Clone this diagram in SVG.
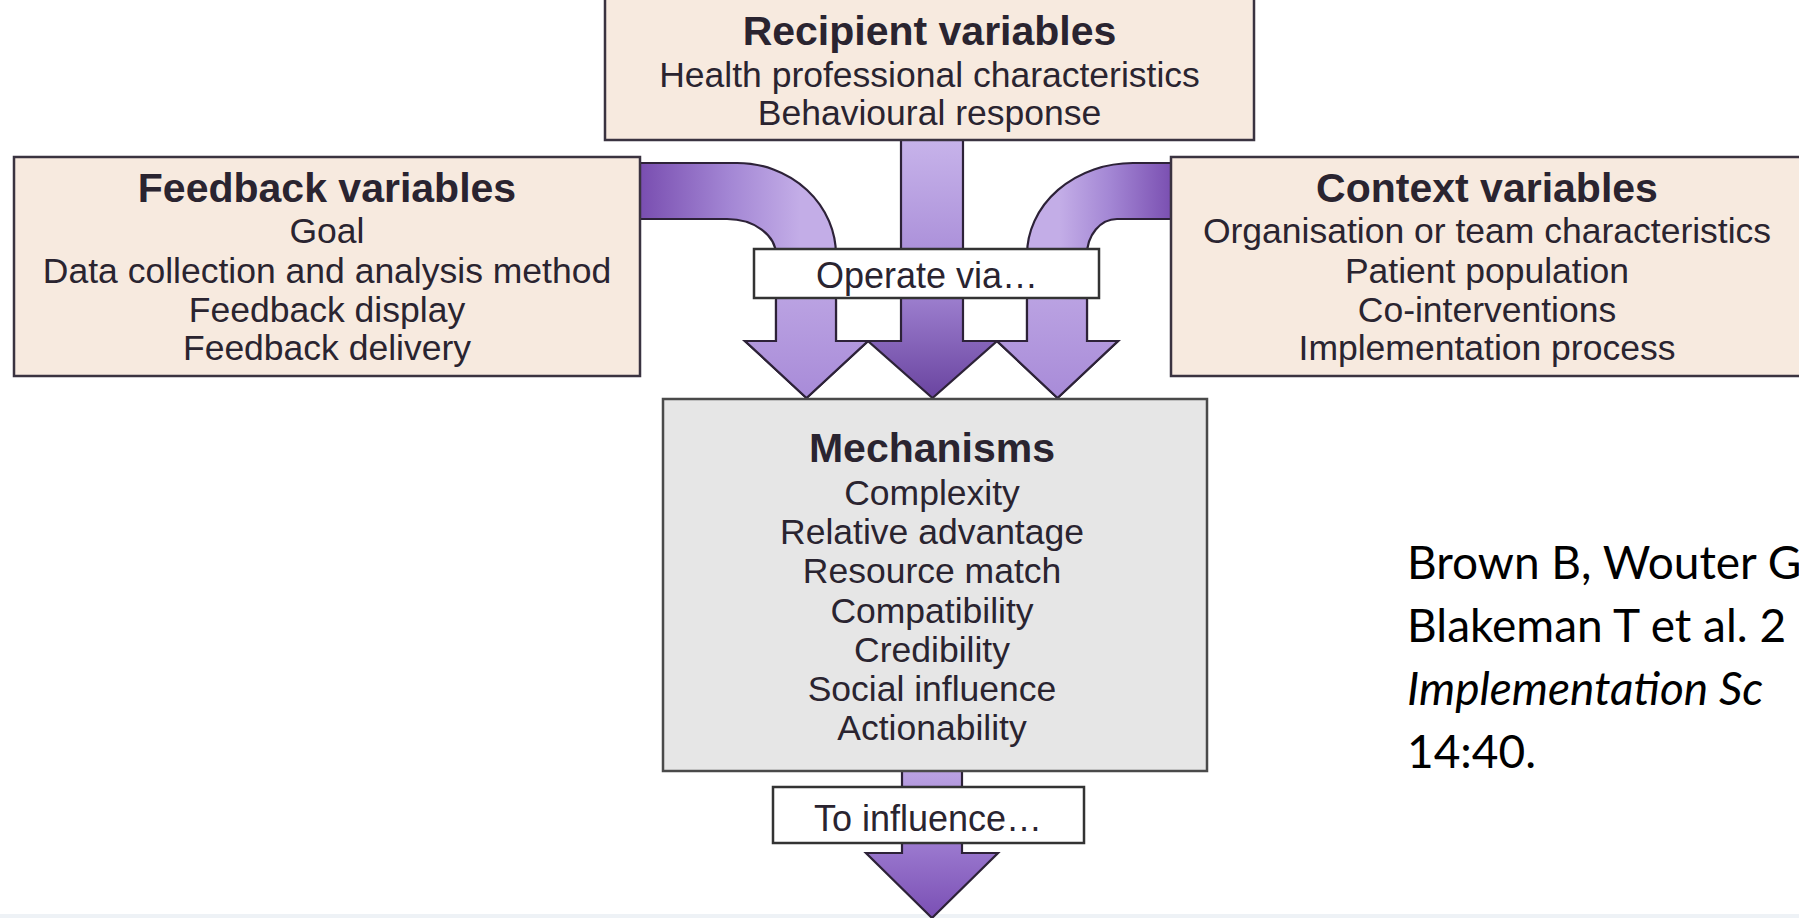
<svg xmlns="http://www.w3.org/2000/svg" width="1799" height="918" viewBox="0 0 1799 918">
<style>
.box{fill:#f7eadf;stroke:#3a3340;stroke-width:2.5}
.mech{fill:#e6e6e6;stroke:#4a4a4a;stroke-width:2.5}
.lbl{fill:#ffffff;stroke:#333;stroke-width:2.5}
.arr{stroke:#2d2238;stroke-width:2.2;stroke-linejoin:miter}
text{font-family:"Liberation Sans",Arial,sans-serif;fill:#2a2430;text-anchor:middle}
.t{font-weight:bold;font-size:41px}
.r{font-size:35.5px}
.cite{font-family:Lato,"Noto Sans",sans-serif;font-size:46px;fill:#000;text-anchor:start}
</style>
<defs>
<linearGradient id="gL" gradientUnits="userSpaceOnUse" x1="642" y1="0" x2="800" y2="0">
<stop offset="0" stop-color="#7a4fb1"/><stop offset="0.55" stop-color="#a386d4"/><stop offset="1" stop-color="#c3ade7"/>
</linearGradient>
<linearGradient id="gR" gradientUnits="userSpaceOnUse" x1="1172" y1="0" x2="1060" y2="0">
<stop offset="0" stop-color="#7a4fb1"/><stop offset="0.55" stop-color="#a386d4"/><stop offset="1" stop-color="#c3ade7"/>
</linearGradient>
<linearGradient id="gHL" gradientUnits="userSpaceOnUse" x1="0" y1="250" x2="0" y2="398">
<stop offset="0" stop-color="#c3ade7"/><stop offset="1" stop-color="#a88bd8"/>
</linearGradient>
<linearGradient id="gC" gradientUnits="userSpaceOnUse" x1="0" y1="140" x2="0" y2="398">
<stop offset="0" stop-color="#c7b3ea"/><stop offset="0.55" stop-color="#a487d5"/><stop offset="1" stop-color="#6a44a0"/>
</linearGradient>
<linearGradient id="gB" gradientUnits="userSpaceOnUse" x1="0" y1="770" x2="0" y2="918">
<stop offset="0" stop-color="#bba3e3"/><stop offset="0.5" stop-color="#9b79cf"/><stop offset="1" stop-color="#7a4fb4"/>
</linearGradient>
</defs>
<rect x="0" y="0" width="1799" height="918" fill="#ffffff"/>
<rect x="0" y="914" width="1799" height="4" fill="#eef2f6"/>

<g id="connectors">
<path class="arr" fill="url(#gL)" d="M636 163 L737 163 A99 92 0 0 1 836 255 L836 341 L868 341 L806.5 398 L745 341 L776 341 L776 255 A49 36 0 0 0 727 219 L636 219 Z"/>
<path class="arr" fill="url(#gL)" d="M836 300 L836 341 L868 341 L806.5 398 L745 341 L776 341 L776 300" style="fill:url(#gHL)"/>
<path class="arr" fill="url(#gR)" d="M1178 163 L1133 163 A106 92 0 0 0 1027 255 L1027 341 L997 341 L1057.5 398 L1118 341 L1087 341 L1087 255 A30 36 0 0 1 1117 219 L1178 219 Z"/>
<path class="arr" d="M1027 300 L1027 341 L997 341 L1057.5 398 L1118 341 L1087 341 L1087 300" style="fill:url(#gHL)"/>
<path class="arr" fill="url(#gC)" d="M901 136 L963 136 L963 341 L997 341 L932.5 398 L868 341 L901 341 Z"/>
<path class="arr" fill="url(#gB)" d="M902 768 L962 768 L962 853 L998 853 L932 918 L866 853 L902 853 Z"/>
</g>

<g id="recipient">
<rect class="box" x="605" y="-2" width="649" height="142"/>
<text class="t" x="929.5" y="45">Recipient variables</text>
<text class="r" x="929.5" y="87">Health professional characteristics</text>
<text class="r" x="929.5" y="125">Behavioural response</text>
</g>

<g id="feedback">
<rect class="box" x="14" y="157" width="626" height="219"/>
<text class="t" x="327" y="202">Feedback variables</text>
<text class="r" x="327" y="243">Goal</text>
<text class="r" x="327" y="283">Data collection and analysis method</text>
<text class="r" x="327" y="322">Feedback display</text>
<text class="r" x="327" y="360">Feedback delivery</text>
</g>

<g id="context">
<rect class="box" x="1171" y="157" width="640" height="219"/>
<text class="t" x="1487" y="202">Context variables</text>
<text class="r" x="1487" y="243">Organisation or team characteristics</text>
<text class="r" x="1487" y="283">Patient population</text>
<text class="r" x="1487" y="322">Co-interventions</text>
<text class="r" x="1487" y="360">Implementation process</text>
</g>

<g id="operate">
<rect class="lbl" x="754" y="249" width="345" height="49"/>
<text class="r" x="927" y="288" style="font-size:36px">Operate via…</text>
</g>

<g id="mechanisms">
<rect class="mech" x="663" y="399" width="544" height="372"/>
<text class="t" x="932" y="462">Mechanisms</text>
<text class="r" x="932" y="505">Complexity</text>
<text class="r" x="932" y="544">Relative advantage</text>
<text class="r" x="932" y="583">Resource match</text>
<text class="r" x="932" y="623">Compatibility</text>
<text class="r" x="932" y="662">Credibility</text>
<text class="r" x="932" y="701">Social influence</text>
<text class="r" x="932" y="740">Actionability</text>
</g>

<g id="influence">
<rect class="lbl" x="773" y="787" width="311" height="56"/>
<text class="r" x="928" y="831" style="font-size:36px">To influence…</text>
</g>

<g id="citation">
<text class="cite" x="1407" y="579">Brown B, Wouter G</text>
<text class="cite" x="1407" y="642">Blakeman T et al. 2</text>
<text class="cite" x="1407" y="705" font-style="italic">Implementation Sc</text>
<text class="cite" x="1407" y="768">14:40.</text>
</g>
</svg>
